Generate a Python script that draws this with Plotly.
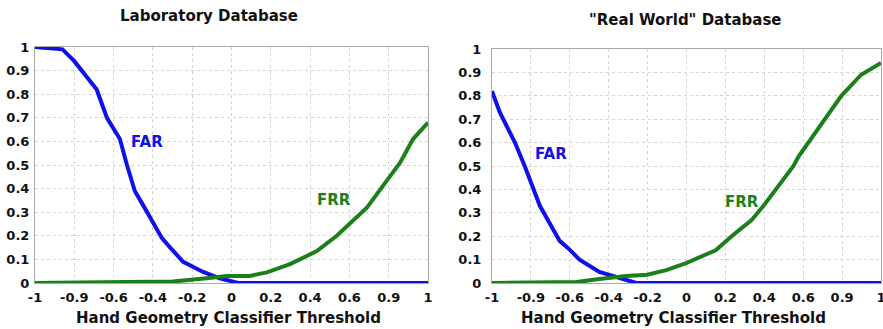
import plotly.graph_objects as go

# x positions are in grid units along the (non-linear) threshold axis
tick_pos = [0, 1, 2, 3, 4, 5, 6, 7, 8, 9, 10]
tick_labels = ["-1", "-0.9", "-0.6", "-0.4", "-0.2", "0", "0.2", "0.4", "0.6", "0.9", "1"]
y_ticks = [0, 0.1, 0.2, 0.3, 0.4, 0.5, 0.6, 0.7, 0.8, 0.9, 1]
y_labels = ["0", "0.1", "0.2", "0.3", "0.4", "0.5", "0.6", "0.7", "0.8", "0.9", "1"]

lab_far_x = [0, 0.7, 1.0, 1.57, 1.83, 2.16, 2.34, 2.54, 2.75, 3.23, 3.44, 3.77, 4.28, 4.7, 5.17, 10]
lab_far_y = [1.0, 0.99, 0.94, 0.82, 0.70, 0.61, 0.5, 0.39, 0.33, 0.19, 0.15, 0.09, 0.047, 0.02, 0.0, 0.0]
lab_frr_x = [0, 2.5, 3.5, 4.37, 4.88, 5.47, 5.9, 6.49, 7.17, 7.68, 8.45, 8.98, 9.29, 9.62, 10]
lab_frr_y = [0, 0.002, 0.006, 0.02, 0.03, 0.03, 0.045, 0.08, 0.135, 0.2, 0.32, 0.44, 0.51, 0.61, 0.68]

rw_far_x = [0, 0.2, 0.59, 0.84, 1.23, 1.74, 1.95, 2.25, 2.76, 3.27, 3.71, 10]
rw_far_y = [0.82, 0.73, 0.6, 0.5, 0.33, 0.18, 0.15, 0.1, 0.047, 0.02, 0.0, 0.0]
rw_frr_x = [0, 1.5, 2.17, 2.76, 3.45, 3.99, 4.48, 4.99, 5.32, 5.75, 6.16, 6.68, 6.98, 7.44, 7.75, 7.88, 8.31, 8.98, 9.49, 10]
rw_frr_y = [0, 0.001, 0.004, 0.017, 0.03, 0.035, 0.055, 0.085, 0.11, 0.14, 0.2, 0.27, 0.33, 0.43, 0.5, 0.54, 0.64, 0.8, 0.89, 0.94]

BLUE = "#1010e8"
GREEN = "#1c7f1c"
FONT = "DejaVu Sans"
W, H = 883, 329

fig = go.Figure()
fig.add_trace(go.Scatter(x=lab_far_x, y=lab_far_y, mode="lines", line=dict(color=BLUE, width=4), xaxis="x", yaxis="y"))
fig.add_trace(go.Scatter(x=lab_frr_x, y=lab_frr_y, mode="lines", line=dict(color=GREEN, width=4), xaxis="x", yaxis="y"))
fig.add_trace(go.Scatter(x=rw_far_x, y=rw_far_y, mode="lines", line=dict(color=BLUE, width=4), xaxis="x2", yaxis="y2"))
fig.add_trace(go.Scatter(x=rw_frr_x, y=rw_frr_y, mode="lines", line=dict(color=GREEN, width=4), xaxis="x2", yaxis="y2"))

def px(x):
    return x / W

def py(y):
    return 1 - y / H

tfont = dict(family=FONT, size=13, color="#111", weight="bold")
xcommon = dict(range=[0, 10], tickmode="array", tickvals=tick_pos, ticktext=tick_labels,
               showgrid=True, gridcolor="#d4d4d4", gridwidth=1, griddash="dot",
               showline=True, linecolor="#a8a8a8", linewidth=1, mirror=True,
               zeroline=False, ticks="outside", ticklen=2, tickcolor="rgba(0,0,0,0)",
               ticklabeloverflow="allow", automargin=False, tickfont=tfont)
ycommon = dict(range=[0, 1], tickmode="array", tickvals=y_ticks, ticktext=y_labels,
               showgrid=True, gridcolor="#d4d4d4", gridwidth=1, griddash="dot",
               showline=True, linecolor="#a8a8a8", linewidth=1, mirror=True,
               zeroline=False, ticks="outside", tickcolor="rgba(0,0,0,0)",
               ticklabeloverflow="allow", automargin=False, tickfont=tfont)

fig.update_layout(
    template="none",
    width=W, height=H,
    margin=dict(l=0, r=0, t=0, b=0, pad=0),
    paper_bgcolor="white", plot_bgcolor="white",
    showlegend=False,
    xaxis=dict(domain=[px(35), px(428)], anchor="y", **xcommon),
    yaxis=dict(domain=[py(283), py(47)], anchor="x", ticklen=2, **ycommon),
    xaxis2=dict(domain=[px(492), px(881)], anchor="y2", **xcommon),
    yaxis2=dict(domain=[py(283), py(49)], anchor="x2", ticklen=7, **ycommon),
)

ann = [
    dict(text="<b>Laboratory Database</b>", x=px(209), y=py(16), font=dict(size=15, color="#111")),
    dict(text="<b>\"Real World\" Database</b>", x=px(685), y=py(20), font=dict(size=15, color="#111")),
    dict(text="<b>Hand Geometry Classifier Threshold</b>", x=px(228), y=py(318), font=dict(size=15, color="#111")),
    dict(text="<b>Hand Geometry Classifier Threshold</b>", x=px(673), y=py(318), font=dict(size=15, color="#111")),
    dict(text="<b>FAR</b>", x=px(147), y=py(142), font=dict(size=15, color=BLUE)),
    dict(text="<b>FRR</b>", x=px(334), y=py(200), font=dict(size=15, color=GREEN)),
    dict(text="<b>FAR</b>", x=px(551), y=py(154), font=dict(size=15, color=BLUE)),
    dict(text="<b>FRR</b>", x=px(742), y=py(202), font=dict(size=15, color=GREEN)),
]
for a in ann:
    a["font"]["family"] = FONT
    fig.add_annotation(xref="paper", yref="paper", showarrow=False, xanchor="center", yanchor="middle", **a)

fig.write_html("out.html", config={"displayModeBar": False},
               post_script="document.body.style.margin='0';document.body.style.padding='0';")
